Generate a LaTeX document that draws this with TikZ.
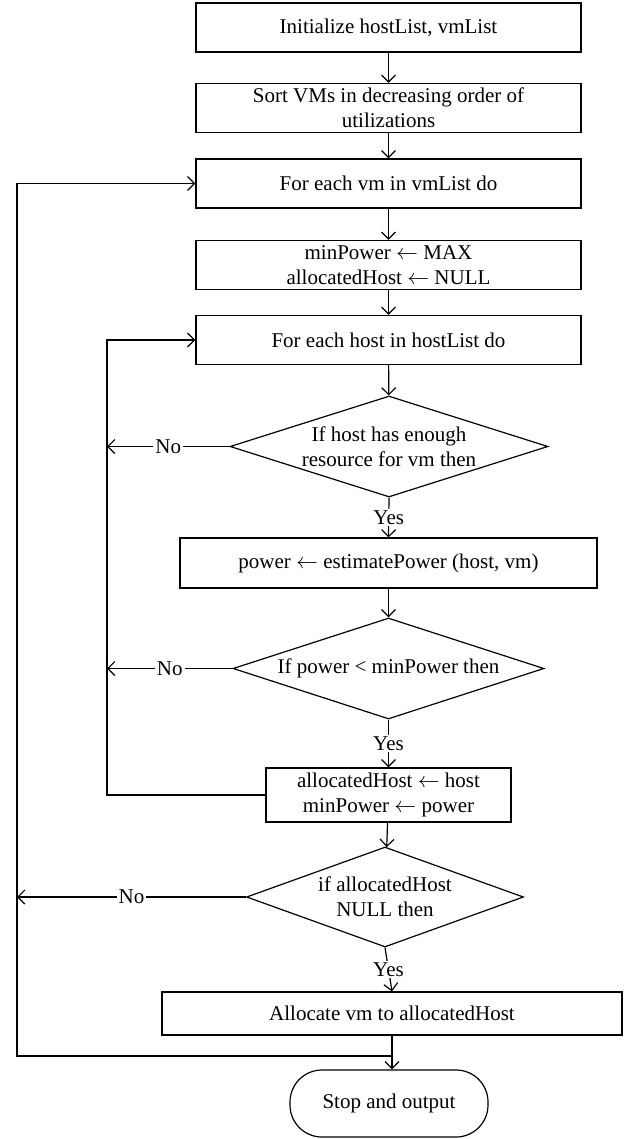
\documentclass[tikz,border=0pt]{standalone}
\usepackage{fontspec}
\setmainfont{Liberation Serif}
\usetikzlibrary{shapes,shapes.geometric,arrows.meta,calc}

\begin{document}
\begin{tikzpicture}
	[x=0.5pt,y=-0.5pt,line width=0.6pt,>={Straight Barb[length=3.5pt,width=7pt]},
	every node/.style={font=\fontsize{10.5}{12.5}\selectfont,align=center},
	box/.style={draw,rectangle,inner sep=1pt,minimum width=192.5pt,minimum height=24.5pt},
	decision/.style={draw,diamond,aspect=3,inner sep=-3pt},
	endbox/.style={draw,rectangle,rounded corners=16pt,minimum width=99pt,minimum height=33.5pt},
	tag/.style={fill=white,inner sep=1pt}]
	\useasboundingbox (0,0) rectangle (623,1139);
	\node[box] (init) at (388.5,27.5) {Initialize hostList, vmList};
	\node[box] (sortvm) at (388.5,108) {Sort VMs in decreasing order of\\utilizations};
	\node[box] (forvm) at (388.5,183.5) {For each vm in vmList do};
	\node[box] (minit) at (388.5,265) {minPower $\leftarrow$ MAX\\allocatedHost $\leftarrow$ NULL};
	\node[box] (forhost) at (388.5,340) {For each host in hostList do};
	\node[decision,minimum width=159pt,minimum height=50.5pt] (dhost) at (389,446.5)
		{If host has enough\\resource for vm then};
	\node[box,minimum width=208.5pt,minimum height=25pt] (power) at (388.5,563)
		{power $\leftarrow$ estimatePower (host, vm)};
	\node[decision,minimum width=155.5pt,minimum height=50.5pt] (dpower) at (388.5,668.5)
		{If power < minPower then};
	\node[box,minimum width=122.5pt,minimum height=27pt] (update) at (388.5,795)
		{allocatedHost $\leftarrow$ host\\minPower $\leftarrow$ power};
	\node[decision,minimum width=138.5pt,minimum height=50pt] (dnull) at (385,897)
		{if allocatedHost\\NULL then};
	\node[box,minimum width=230pt,minimum height=21.5pt] (alloc) at (392,1013.5)
		{Allocate vm to allocatedHost};
	\node[endbox] (stop) at (389,1103.5) {Stop and output};
	\coordinate (innerloop) at (107,795);
	\coordinate (outerloop) at (17,1056);
	\coordinate (join) at (alloc.south |- outerloop);
	% main flow
	\draw[->] (init) to (sortvm);
	\draw[->] (sortvm) to (forvm);
	\draw[->] (forvm) to (minit);
	\draw[->] (minit) to (forhost);
	\draw[->] (forhost) to (dhost);
	\draw[->] (dhost.south) -- node[tag]{Yes} (power.north);
	\draw[->] (power) to (dpower);
	\draw[->] (dpower.south) -- node[tag]{Yes} (update.north);
	\draw[->] (update) to (dnull);
	\draw[->] (dnull.south) -- node[tag]{Yes} (alloc.north);
	\draw[->] (alloc.south) -- (alloc.south |- stop.north);
	% loops
	\draw[->] (dhost.west) -- node[tag]{No} (dhost.west -| innerloop);
	\draw[->] (dpower.west) -- node[tag]{No} (dpower.west -| innerloop);
	\draw[->] (update.west) -- (innerloop) |- (forhost.west);
	\draw[->] (dnull.west) -- node[tag]{No} (dnull.west -| outerloop);
	\draw[->] (join) -- (outerloop) |- (forvm.west);
\end{tikzpicture}
\end{document}
